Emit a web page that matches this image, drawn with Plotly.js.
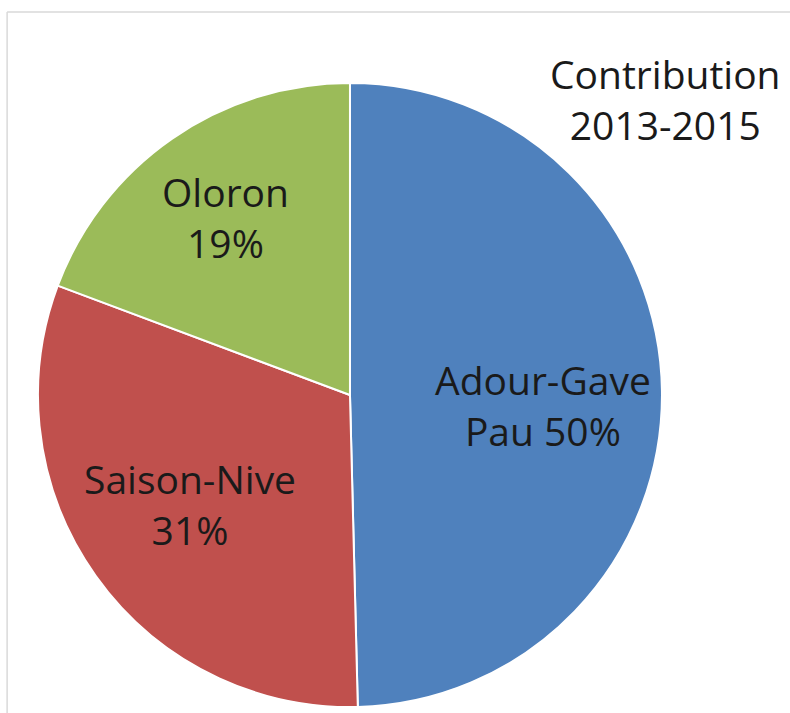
<!DOCTYPE html>
<html>
<head>
<meta charset="utf-8">
<script src="https://cdn.plot.ly/plotly-3.0.1.min.js"></script>
<style>
html,body{margin:0;padding:0;background:#fff;}
#chart{width:790px;height:713px;}
</style>
</head>
<body>
<div id="chart"></div>
<script>
const categories = ["Adour-Gave Pau", "Saison-Nive", "Oloron"];
const values = [49.6, 31.1, 19.3];
const sliceLabels = ["Adour-Gave<br>Pau 50%", "Saison-Nive<br>31%", "Oloron<br>19%"];
const colors = ["#4F81BD", "#C0504D", "#9BBB59"];
const titleText = "Contribution<br>2013-2015";

const FONT = "Open Sans, sans-serif";
const labelPos = [[0.687, 0.432], [0.241, 0.293], [0.285, 0.696]];

const trace = {
  type: "pie",
  labels: categories,
  values: values,
  textinfo: "none",
  sort: false,
  direction: "clockwise",
  rotation: 0,
  marker: {colors: colors, line: {color: "#ffffff", width: 2}},
  hoverinfo: "none",
  domain: {x: [0.048, 0.838], y: [0.0084, 0.8836]}
};

const annotations = sliceLabels.map((t, i) => ({
  text: t, xref: "paper", yref: "paper", x: labelPos[i][0], y: labelPos[i][1],
  xanchor: "center", yanchor: "middle", align: "center", showarrow: false,
  font: {family: FONT, size: 39, color: "#1a1a1a"}
}));
annotations.push({
  text: titleText, xref: "paper", yref: "paper", x: 0.843, y: 0.861,
  xanchor: "center", yanchor: "middle", align: "center", showarrow: false,
  font: {family: FONT, size: 39, color: "#1a1a1a"}
});

const layout = {
  width: 790, height: 713,
  margin: {l: 0, r: 0, t: 0, b: 0},
  paper_bgcolor: "#ffffff",
  showlegend: false,
  shapes: [
    {type: "line", xref: "paper", yref: "paper", x0: 0.009, x1: 1, y0: 0.983, y1: 0.983, line: {color: "#d9d9d9", width: 1.5}},
    {type: "line", xref: "paper", yref: "paper", x0: 0.009, x1: 0.009, y0: 0.983, y1: 0, line: {color: "#d9d9d9", width: 1.5}}
  ],
  annotations: annotations
};

Plotly.newPlot("chart", [trace], layout, {displayModeBar: false, staticPlot: true});
</script>
</body>
</html>
